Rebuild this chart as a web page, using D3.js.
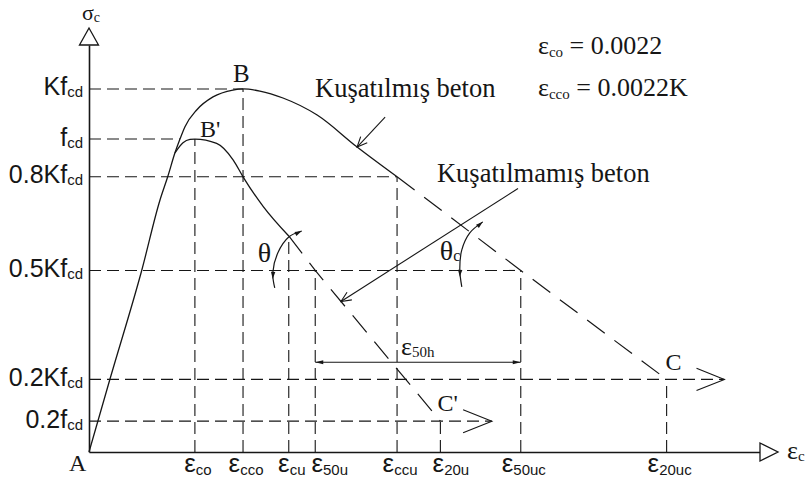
<!DOCTYPE html>
<html>
<head>
<meta charset="utf-8">
<script src="https://cdn.jsdelivr.net/npm/d3@7"></script>
<style>
  html, body { margin: 0; padding: 0; background: #fff; }
  svg { display: block; font-family: "Liberation Serif", "Times New Roman", serif; }
</style>
</head>
<body>
<svg id="chart" width="807" height="485"></svg>
<script>
// Strain in per mille, stress as a fraction of Kfcd.

// Strain marks on the horizontal axis (subscripts of ε) and their values
const strainLabels = ["co", "cco", "cu", "50u", "ccu", "20u", "50uc", "20uc"];
const strainValues = [2.2, 3.2, 4.15, 4.7, 6.4, 7.3, 8.97, 12.0];
// stress at which each vertical guide stops
const strainGuideTop = [0.862, 1.0, 0.595, 0.5, 0.758, 0.085, 0.5, 0.2];

// Stress marks on the vertical axis
const stressLabels = [["Kf", "cd"], ["f", "cd"], ["0.8Kf", "cd"], ["0.5Kf", "cd"], ["0.2Kf", "cd"], ["0.2f", "cd"]];
const stressValues = [1.0, 0.862, 0.758, 0.5, 0.2, 0.085];
// strain at which each horizontal guide stops
const stressGuideEnd = [3.2, 1.89, 6.4, 8.97, 13.2, 8.37];

// Confined concrete (Kuşatılmış beton)
const confinedCurve = [[0, 0], [0.436, 0.201], [1.095, 0.5], [1.475, 0.694], [1.635, 0.758],
  [1.786, 0.824], [1.89, 0.862], [1.994, 0.896], [2.237, 0.942], [2.576, 0.978], [2.99, 0.997],
  [3.2, 1.0], [3.55, 0.994], [4.03, 0.975], [4.74, 0.928], [5.57, 0.84], [6.4, 0.758]];
const confinedTail = [[6.4, 0.758], [8.97, 0.5], [12.0, 0.2]];

// Unconfined concrete (Kuşatılmamış beton)
const unconfinedCurve = [[1.786, 0.824], [1.953, 0.852], [2.098, 0.861], [2.2, 0.862],
  [2.652, 0.85], [2.997, 0.804], [3.2, 0.758], [3.621, 0.676], [4.15, 0.595]];
const unconfinedTail = [[4.15, 0.595], [4.7, 0.5], [7.3, 0.085]];

// Strain definitions
const notes = [["co", " = 0.0022"], ["cco", " = 0.0022K"]];

const ink = "#161616";
const svg = d3.select("#chart");
const x = d3.scaleLinear().domain([0, 13.94]).range([89, 760]);
const y = d3.scaleLinear().domain([0, 1.121]).range([452, 45]);

// text made of a main run and a lowered subscript run
function subText(g, parts, size, subSize, shift) {
  const t = g.append("text").attr("fill", ink).attr("font-size", size);
  parts.forEach((p, i) => {
    const isSub = i % 2 === 1;
    t.append("tspan")
      .attr("font-size", isSub ? subSize : size)
      .attr("dy", isSub ? shift : (i === 0 ? 0 : -shift))
      .text(p);
  });
  return t;
}

// ---- guide lines ----
const guides = svg.append("g").attr("stroke", ink).attr("stroke-width", 1.1)
  .attr("stroke-dasharray", "12 6").attr("fill", "none");
guides.selectAll("line.h").data(stressValues).join("line").attr("class", "h")
  .attr("x1", x(0)).attr("x2", (d, i) => x(stressGuideEnd[i]))
  .attr("y1", d => y(d)).attr("y2", d => y(d));
guides.selectAll("line.v").data(strainValues).join("line").attr("class", "v")
  .attr("x1", d => x(d)).attr("x2", d => x(d))
  .attr("y1", y(0)).attr("y2", (d, i) => y(strainGuideTop[i]));

// end chevrons on the two residual-strength lines (C and C')
function chevron(tip, back, len, half) {
  const a = Math.atan2(back[1] - tip[1], back[0] - tip[0]);
  const p1 = [tip[0] + len * Math.cos(a + half), tip[1] + len * Math.sin(a + half)];
  const p2 = [tip[0] + len * Math.cos(a - half), tip[1] + len * Math.sin(a - half)];
  return `M${p1}L${tip}L${p2}`;
}
[[4, 30], [5, 31]].forEach(([i, len]) => {
  const tip = [x(stressGuideEnd[i]), y(stressValues[i])];
  svg.append("path").attr("d", chevron(tip, [tip[0] - 10, tip[1]], len, 0.38))
    .attr("fill", "none").attr("stroke", ink).attr("stroke-width", 1.1);
});

// ---- curves ----
const smooth = d3.line().x(d => x(d[0])).y(d => y(d[1])).curve(d3.curveMonotoneX);
const straight = d3.line().x(d => x(d[0])).y(d => y(d[1]));
svg.append("path").attr("d", smooth(confinedCurve))
  .attr("fill", "none").attr("stroke", ink).attr("stroke-width", 1.3);
svg.append("path").attr("d", smooth(unconfinedCurve))
  .attr("fill", "none").attr("stroke", ink).attr("stroke-width", 1.3);
svg.append("path").attr("d", straight(confinedTail))
  .attr("fill", "none").attr("stroke", ink).attr("stroke-width", 1.2).attr("stroke-dasharray", "22 12");
svg.append("path").attr("d", straight(unconfinedTail))
  .attr("fill", "none").attr("stroke", ink).attr("stroke-width", 1.2).attr("stroke-dasharray", "22 12");

// ---- axes ----
const xAxis = svg.append("g").attr("transform", `translate(0,${y(0)})`)
  .call(d3.axisBottom(x).tickValues(strainValues).tickSize(0).tickSizeOuter(0).tickFormat(""));
xAxis.select(".domain").attr("stroke", ink).attr("stroke-width", 1.6);
const labelNudge = { "50u": 14, "20u": 10 };
xAxis.selectAll(".tick").each(function (d) {
  const i = strainValues.indexOf(d);
  const name = strainLabels[i];
  const t = subText(d3.select(this), ["ε", name], 26, 15, 3);
  t.attr("text-anchor", "middle").attr("x", labelNudge[name] ?? 2.5).attr("y", 20);
});
const yAxis = svg.append("g").attr("transform", `translate(${x(0)},0)`)
  .call(d3.axisLeft(y).tickValues(stressValues).tickSize(0).tickSizeOuter(0).tickFormat(""));
yAxis.select(".domain").attr("stroke", ink).attr("stroke-width", 1.6);
yAxis.selectAll(".tick").each(function (d) {
  const i = stressValues.indexOf(d);
  const t = subText(d3.select(this), stressLabels[i], 25, 15, 2);
  t.attr("text-anchor", "end").attr("x", -6).attr("y", 6);
});

// axis arrowheads (open triangles)
const xEnd = x.range()[1], yTop = y.range()[1];
svg.append("path").attr("d", `M${xEnd},${y(0) - 9}L${xEnd + 18},${y(0)}L${xEnd},${y(0) + 9}Z`)
  .attr("fill", "#fff").attr("stroke", ink).attr("stroke-width", 1.3);
svg.append("path").attr("d", `M${x(0) - 9.5},${yTop}L${x(0)},${yTop - 17}L${x(0) + 9.5},${yTop}Z`)
  .attr("fill", "#fff").attr("stroke", ink).attr("stroke-width", 1.3);
subText(svg, ["σ", "c"], 22, 14, 2).attr("x", x(0) - 7).attr("y", yTop - 25);
subText(svg, ["ε", "c"], 26, 15, 2).attr("x", xEnd + 27).attr("y", y(0) + 7);

// ---- point labels ----
function label(txt, px, py, size) {
  svg.append("text").attr("x", px).attr("y", py).attr("font-size", size)
    .attr("fill", ink).text(txt);
}
label("A", x(0) - 20, y(0) + 19, 24);
label("B", x(strainValues[1]) - 10, y(1.0) - 7, 25);
label("B'", x(strainValues[0]) + 5, y(stressValues[1]) - 2, 24);
label("C", x(strainValues[7]) - 1, y(stressValues[4]) - 9, 24);
label("C'", x(strainValues[5]) - 3, y(stressValues[5]) - 10, 24);

// ---- angle marks ----
const arcLine = d3.line().curve(d3.curveCatmullRom);
function dart(p, ang, len, wid) {
  const c = Math.cos(ang), s = Math.sin(ang);
  const b = [p[0] - len * c, p[1] - len * s];
  return `M${p}L${b[0] - wid * s},${b[1] + wid * c}L${b[0] + wid * s},${b[1] - wid * c}Z`;
}
function angleMark(anchor, offs, lowOff, sym, labelOff) {
  const pts = offs.map(o => [anchor[0] + o[0], anchor[1] + o[1]]);
  svg.append("path").attr("d", arcLine(pts)).attr("fill", "none")
    .attr("stroke", ink).attr("stroke-width", 1.2);
  const p0 = pts[0], p1 = pts[1];
  svg.append("path").attr("d", dart(p0, Math.atan2(p0[1] - p1[1], p0[0] - p1[0]), 7, 2.2)).attr("fill", ink);
  const lp = [anchor[0] + lowOff[0], anchor[1] + lowOff[1]];
  svg.append("path").attr("d", dart(lp, Math.PI / 2 + 0.05, 7, 2.2)).attr("fill", ink);
  subText(svg, sym, 28, 16, 1).attr("x", anchor[0] + labelOff[0]).attr("y", anchor[1] + labelOff[1]);
}
const uEnd = unconfinedTail[0];
angleMark([x(uEnd[0]), y(uEnd[1])],
  [[13, -5], [0, 1], [-11, 17], [-16, 37], [-14, 52]], [-16, 43], ["θ"], [-31, 26]);
const t = 0.588;
const cA = confinedTail[0], cB = confinedTail[1];
angleMark([x(cA[0] + t * (cB[0] - cA[0])), y(cA[1] + t * (cB[1] - cA[1]))],
  [[13, -10], [0, 1], [-8, 18], [-10, 38], [-8, 55]], [-10, 45], ["θ", "c"], [-30, 28]);

// ---- curve names with leader arrows ----
function leader(tip, tail) {
  svg.append("line").attr("x1", tail[0]).attr("y1", tail[1]).attr("x2", tip[0]).attr("y2", tip[1])
    .attr("stroke", ink).attr("stroke-width", 1.1);
  svg.append("path").attr("d", chevron(tip, tail, 11, 0.42))
    .attr("fill", "none").attr("stroke", ink).attr("stroke-width", 1.1);
}
const cTip = confinedCurve[15];
const cTipPx = [x(cTip[0]), y(cTip[1])];
leader(cTipPx, [cTipPx[0] + 28, cTipPx[1] - 30]);
label("Kuşatılmış beton", cTipPx[0] - 42, cTipPx[1] - 50, 26.5);

const uS = 5.235;
const uA = unconfinedTail[1], uB = unconfinedTail[2];
const uTipPx = [x(uS), y(uA[1] + (uS - uA[0]) / (uB[0] - uA[0]) * (uB[1] - uA[1]))];
leader(uTipPx, [uTipPx[0] + 177, uTipPx[1] - 113]);
label("Kuşatılmamış beton", uTipPx[0] + 96, uTipPx[1] - 119, 26.5);

// ---- ε50h span between ε50u and ε50uc ----
const spanY = y(0.247);
const sx1 = x(strainValues[3]), sx2 = x(strainValues[6]);
svg.append("line").attr("x1", sx1).attr("x2", sx2).attr("y1", spanY).attr("y2", spanY)
  .attr("stroke", ink).attr("stroke-width", 1.1);
svg.append("path").attr("d", dart([sx1, spanY], Math.PI, 8, 2)).attr("fill", ink);
svg.append("path").attr("d", dart([sx2, spanY], 0, 8, 2)).attr("fill", ink);
subText(svg, ["ε", "50h"], 26, 15, 2).attr("x", x(strainValues[4]) + 4).attr("y", spanY - 7);

// ---- strain definitions ----
notes.forEach((n, i) => {
  subText(svg, ["ε", n[0], n[1]], 26, 15, 3).attr("x", 538).attr("y", 54 + i * 42);
});
</script>
</body>
</html>
